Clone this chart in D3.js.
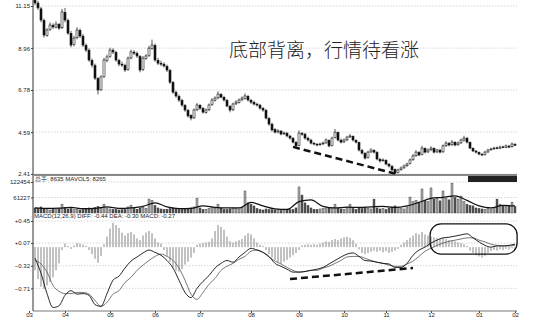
<!DOCTYPE html>
<html>
<head>
<meta charset="utf-8">
<script src="https://cdnjs.cloudflare.com/ajax/libs/d3/7.8.5/d3.min.js"></script>
<style>
body { margin: 0; background: #fff; }
text { font-family: "Liberation Sans", Arial, sans-serif; }
</style>
</head>
<body>
<div id="chart"></div>
<script>
const width = 552;
const height = 322;

// daily candles
const opens = [11.45,11.30,11.00,10.40,9.62,9.92,10.15,10.05,10.20,10.02,
  10.82,10.40,9.72,9.15,9.50,9.88,9.58,9.10,8.85,8.32,
  8.05,7.38,6.80,7.48,8.32,8.52,8.85,8.74,8.32,8.12,
  8.06,7.85,8.45,8.75,8.68,8.52,7.85,8.42,8.57,8.95,
  9.10,8.32,8.17,8.12,8.01,7.80,7.17,6.65,6.45,6.24,
  5.98,5.72,5.45,5.33,5.75,5.98,5.82,5.62,5.75,6.02,
  6.25,6.37,6.55,6.40,6.24,5.93,5.75,6.06,6.14,6.27,
  6.35,6.45,6.24,6.14,6.04,5.99,5.82,5.72,5.30,5.00,
  4.72,4.60,4.64,4.50,4.53,4.38,4.27,4.05,3.89,4.52,
  4.48,4.27,4.17,4.01,3.96,3.93,3.98,4.03,4.16,3.89,
  4.30,4.57,4.17,4.08,4.19,4.34,4.37,4.16,4.05,3.64,
  3.48,3.26,3.56,3.64,3.53,3.17,3.10,3.12,2.92,2.81,
  2.64,2.48,2.63,2.73,2.84,2.95,3.15,3.36,3.53,3.42,
  3.74,3.56,3.67,3.74,3.56,3.65,3.56,3.88,4.00,3.93,
  4.06,3.93,4.03,4.17,4.27,4.05,3.74,3.60,3.53,3.44,
  3.42,3.56,3.67,3.72,3.77,3.75,3.82,3.80,3.86,3.83,
  3.95];
const highs = [11.60,11.42,11.10,10.50,10.00,10.30,10.25,10.35,10.26,11.00,
  11.05,10.50,9.85,9.60,10.05,9.98,9.70,9.20,8.95,8.42,
  8.15,7.45,7.55,8.45,8.62,8.98,8.95,8.82,8.40,8.25,
  8.15,8.52,8.88,8.85,8.78,8.60,8.55,8.65,9.08,9.40,
  9.20,8.45,8.30,8.22,8.10,7.88,7.25,6.75,6.55,6.32,
  6.05,5.80,5.52,5.82,6.10,6.06,5.90,5.82,6.08,6.35,
  6.45,6.72,6.62,6.48,6.32,6.00,6.12,6.25,6.34,6.45,
  6.60,6.52,6.32,6.22,6.12,6.06,5.90,5.80,5.38,5.08,
  4.80,4.74,4.70,4.62,4.60,4.45,4.33,4.12,4.68,4.60,
  4.55,4.35,4.24,4.08,4.02,4.04,4.10,4.26,4.22,4.35,
  4.75,4.62,4.25,4.26,4.40,4.50,4.42,4.22,4.10,3.72,
  3.55,3.62,3.75,3.70,3.60,3.25,3.22,3.18,2.98,2.88,
  2.70,2.68,2.80,2.90,3.00,3.22,3.45,3.65,3.60,3.88,
  3.80,3.74,3.85,3.80,3.72,3.72,3.95,4.12,4.08,4.18,
  4.12,4.10,4.25,4.40,4.34,4.10,3.80,3.66,3.58,3.50,
  3.62,3.72,3.78,3.82,3.84,3.88,3.88,3.94,3.92,4.05,
  4.02];
const lows = [11.20,10.95,10.30,9.50,9.55,9.85,9.95,9.98,9.90,9.95,
  10.30,9.65,9.00,9.05,9.42,9.48,9.02,8.75,8.25,7.95,
  7.30,6.55,6.72,7.40,8.22,8.45,8.65,8.25,8.02,7.98,
  7.72,7.78,8.38,8.60,8.45,7.70,7.76,8.35,8.50,8.88,
  8.25,8.08,8.02,7.95,7.72,7.10,6.58,6.38,6.15,5.90,
  5.65,5.35,5.20,5.28,5.68,5.75,5.55,5.55,5.68,5.95,
  6.18,6.30,6.35,6.18,5.88,5.62,5.68,6.00,6.08,6.20,
  6.28,6.18,6.06,5.98,5.92,5.76,5.65,5.25,4.92,4.62,
  4.52,4.52,4.42,4.44,4.32,4.20,4.00,3.80,3.85,4.40,
  4.20,4.10,3.95,3.90,3.85,3.88,3.92,3.98,3.80,3.84,
  4.25,4.10,4.00,4.02,4.12,4.28,4.10,4.00,3.58,3.42,
  3.16,3.20,3.50,3.48,3.12,3.00,3.05,2.86,2.75,2.55,
  2.41,2.44,2.58,2.68,2.78,2.90,3.10,3.30,3.34,3.38,
  3.48,3.50,3.60,3.48,3.50,3.48,3.52,3.82,3.85,3.88,
  3.85,3.88,3.98,4.10,4.00,3.70,3.55,3.48,3.38,3.34,
  3.36,3.50,3.62,3.66,3.70,3.70,3.76,3.75,3.76,3.78,
  3.86];
const closes = [11.31,11.05,10.42,9.64,9.90,10.16,10.06,10.21,10.00,10.84,
  10.42,9.74,9.12,9.48,9.90,9.59,9.12,8.86,8.34,8.08,
  7.40,6.78,7.46,8.34,8.50,8.86,8.76,8.34,8.13,8.08,
  7.82,8.44,8.76,8.70,8.55,7.82,8.44,8.55,8.96,9.12,
  8.34,8.18,8.13,8.03,7.82,7.19,6.67,6.47,6.26,6.00,
  5.74,5.43,5.32,5.74,6.00,5.84,5.63,5.74,6.00,6.26,
  6.36,6.57,6.41,6.26,5.95,5.74,6.05,6.15,6.26,6.36,
  6.47,6.26,6.15,6.05,6.00,5.84,5.74,5.32,5.01,4.70,
  4.59,4.65,4.49,4.54,4.39,4.28,4.07,3.87,4.54,4.49,
  4.28,4.18,4.02,3.97,3.92,3.97,4.02,4.18,3.87,4.28,
  4.59,4.18,4.07,4.18,4.33,4.39,4.18,4.07,3.66,3.50,
  3.24,3.55,3.66,3.55,3.19,3.09,3.14,2.93,2.83,2.62,
  2.46,2.62,2.72,2.83,2.93,3.14,3.35,3.55,3.40,3.76,
  3.55,3.66,3.76,3.55,3.66,3.55,3.87,4.02,3.92,4.07,
  3.92,4.02,4.18,4.28,4.07,3.76,3.61,3.55,3.45,3.40,
  3.55,3.66,3.71,3.76,3.76,3.81,3.81,3.87,3.81,3.97,
  3.92];

const volumes = [20000,18000,24000,16000,14000,12000,15000,13000,17000,35000,
  22000,16000,18000,13000,15000,12000,14000,16000,20000,18000,
  22000,26000,18000,35000,20000,16000,14000,15000,12000,13000,
  14000,24000,31000,18000,15000,20000,22000,18000,55000,50000,
  30000,20000,16000,14000,15000,18000,20000,16000,14000,15000,
  16000,18000,20000,24000,59000,20000,14000,15000,18000,22000,
  18000,35000,20000,15000,14000,16000,20000,18000,16000,22000,
  87000,40000,35000,28000,18000,14000,12000,16000,14000,13000,
  12000,14000,10000,12000,11000,13000,14000,20000,103000,71000,
  40000,30000,20000,15000,14000,16000,18000,20000,22000,18000,
  35000,20000,16000,15000,22000,35000,18000,14000,20000,18000,
  22000,18000,16000,55000,20000,16000,18000,14000,20000,24000,
  28000,22000,18000,16000,24000,63000,45000,50000,40000,95000,
  50000,45000,99000,55000,60000,48000,87000,58000,52000,118000,
  62000,55000,67000,45000,35000,30000,28000,20000,18000,16000,
  15000,18000,16000,22000,55000,35000,30000,25000,28000,43000,
  26000];
// MAVOL5, one reading every 4 days
const mavol = [20000,18000,19000,22000,17000,18000,24000,18000,20000,26000,
  40000,24000,17000,18000,28000,22000,20000,20000,42000,28000,
  16000,14000,45000,52000,26000,20000,23000,22000,24000,26000,
  22000,28000,42000,58000,62000,68000,50000,28000,20000,30000,
  28000];

// MACD histogram, one bar a day
const macdBars = [-0.40,-0.55,-0.68,-0.72,-0.66,-0.60,-0.52,-0.40,-0.28,-0.05,
  0.06,0.02,-0.03,0.03,0.07,0.06,0.04,0.02,-0.05,-0.12,
  -0.20,-0.27,-0.15,0.05,0.18,0.32,0.42,0.38,0.33,0.25,
  0.20,0.24,0.26,0.22,0.15,0.12,0.20,0.25,0.28,0.24,
  0.15,0.08,0.06,-0.05,-0.15,-0.25,-0.35,-0.40,-0.42,-0.38,
  -0.30,-0.25,-0.18,-0.10,0.04,0.06,0.07,0.08,0.09,0.15,
  0.28,0.38,0.35,0.30,0.18,0.10,0.08,0.10,0.12,0.14,
  0.20,0.24,0.22,0.15,0.08,0.04,0.02,-0.05,-0.12,-0.18,
  -0.22,-0.26,-0.28,-0.25,-0.22,-0.18,-0.14,-0.10,-0.05,0.03,
  0.04,0.05,0.04,0.05,0.04,0.06,0.08,0.10,0.09,0.12,
  0.14,0.12,0.15,0.17,0.18,0.16,0.12,0.06,-0.04,-0.10,
  -0.12,-0.10,-0.08,-0.06,-0.08,-0.06,-0.09,-0.07,-0.10,-0.08,
  -0.06,-0.03,0.04,0.08,0.12,0.16,0.20,0.24,0.22,0.26,
  0.22,0.20,0.18,0.17,0.16,0.15,0.16,0.14,0.12,0.12,
  0.10,0.08,0.07,0.05,0.02,-0.06,-0.10,-0.14,-0.16,-0.18,
  -0.15,-0.10,-0.07,-0.05,-0.06,-0.04,-0.05,-0.03,-0.04,-0.02,
  -0.03];
// DIFF and DEA, one reading every 2 days
const diff = [-0.19,-0.45,-0.80,-1.04,-1.01,-0.83,-0.75,-0.81,-0.80,-0.83,
  -0.99,-1.02,-0.80,-0.57,-0.50,-0.36,-0.24,-0.17,-0.10,-0.05,
  -0.09,-0.14,-0.23,-0.36,-0.57,-0.78,-0.87,-0.71,-0.59,-0.49,
  -0.36,-0.28,-0.23,-0.26,-0.17,-0.09,-0.02,-0.05,-0.09,-0.16,
  -0.28,-0.33,-0.38,-0.43,-0.43,-0.42,-0.40,-0.38,-0.35,-0.29,
  -0.23,-0.17,-0.12,-0.10,-0.16,-0.23,-0.24,-0.26,-0.28,-0.29,
  -0.35,-0.35,-0.28,-0.14,-0.05,0.00,0.07,0.12,0.16,0.17,
  0.19,0.21,0.23,0.16,0.09,0.03,0.00,0.02,0.02,0.03,
  0.05];
const dea = [-0.23,-0.29,-0.43,-0.66,-0.76,-0.80,-0.80,-0.78,-0.78,-0.81,
  -0.92,-1.02,-0.95,-0.81,-0.75,-0.61,-0.52,-0.40,-0.31,-0.23,
  -0.16,-0.12,-0.16,-0.23,-0.36,-0.57,-0.81,-0.90,-0.78,-0.64,
  -0.54,-0.40,-0.33,-0.28,-0.21,-0.16,-0.07,-0.05,-0.09,-0.17,
  -0.24,-0.29,-0.35,-0.40,-0.43,-0.42,-0.40,-0.40,-0.36,-0.33,
  -0.28,-0.23,-0.17,-0.16,-0.16,-0.19,-0.23,-0.26,-0.28,-0.31,
  -0.33,-0.33,-0.29,-0.24,-0.16,-0.07,-0.02,0.03,0.07,0.10,
  0.12,0.14,0.16,0.16,0.12,0.09,0.05,0.03,0.02,0.02,
  0.03];

const priceTicks = [11.15, 8.96, 6.78, 4.59, 2.41];
const volTicks = [122454, 61227];
const macdTicks = [0.45, 0.07, -0.32, -0.71];
const monthTicks = [-2, 10, 25, 40, 55, 72, 88, 103, 117, 132, 148, 160];
const monthLabels = ["03","04","05","06","07","08","09","10","11","12","01","02"];

// hand-drawn marks on the picture: [day, value]
const priceTrend = [[86, 3.82], [120, 2.43]];
const macdTrend = [[85, -0.55], [126, -0.36]];
const macdBox = [[131.7, 0.40], [160.7, -0.12]];

const title = "底部背离，行情待看涨";
const volHeader = "总手: 8635  MAVOL5: 8265";
const macdHeader = "MACD(12,26,9) DIFF: -0.44 DEA: -0.30 MACD: -0.27";

const svg = d3
  .select("#chart")
  .append("svg")
  .attr("width", width)
  .attr("height", height);

const x = d3.scaleLinear().domain([-2, 160]).range([29, 515]);
const yPrice = d3.scaleLinear().domain([2.41, 11.15]).range([174, 6]);
const yVol = d3.scaleLinear().domain([0, 122454]).range([213, 182]);
const yMacd = d3.scaleLinear().domain([-1.10, 0.45]).range([311, 221]);

const x0 = 33, x1 = 517;

// grid lines
const grid = svg.append("g").attr("stroke", "#bbb").attr("stroke-width", 0.6).attr("stroke-dasharray", "1.5,1.5");
grid.selectAll(".gp").data(priceTicks).enter().append("line")
  .attr("x1", x0).attr("x2", x1).attr("y1", d => yPrice(d)).attr("y2", d => yPrice(d));
grid.selectAll(".gv").data(volTicks).enter().append("line")
  .attr("x1", x0).attr("x2", x1).attr("y1", d => yVol(d)).attr("y2", d => yVol(d));
grid.selectAll(".gm").data(macdTicks).enter().append("line")
  .attr("x1", x0).attr("x2", x1).attr("y1", d => yMacd(d)).attr("y2", d => yMacd(d));

// axes
const axisStyle = g => {
  g.selectAll("text").style("font-size", "6px").attr("fill", "#222");
  g.selectAll("line").attr("stroke", "#444");
  g.select(".domain").remove();
};
svg.append("g").attr("transform", "translate(" + x0 + ",0)")
  .call(d3.axisLeft(yPrice).tickValues(priceTicks).tickFormat(d3.format(".2f")).tickSize(2).tickPadding(1))
  .call(axisStyle);
svg.append("g").attr("transform", "translate(" + x0 + ",0)")
  .call(d3.axisLeft(yVol).tickValues(volTicks).tickFormat(d => d).tickSize(2).tickPadding(1))
  .call(axisStyle);
svg.append("g").attr("transform", "translate(" + x0 + ",0)")
  .call(d3.axisLeft(yMacd).tickValues(macdTicks).tickFormat(d3.format("+.2f")).tickSize(2).tickPadding(1))
  .call(axisStyle);
svg.append("g").attr("transform", "translate(0,311)")
  .call(d3.axisBottom(x).tickValues(monthTicks).tickFormat((d, i) => monthLabels[i]).tickSize(2).tickPadding(0))
  .call(axisStyle);

svg.append("line").attr("x1", x0).attr("x2", x0).attr("y1", 0).attr("y2", 311)
  .attr("stroke", "#333").attr("stroke-width", 1);
svg.append("line").attr("x1", x0).attr("x2", x1).attr("y1", 311).attr("y2", 311)
  .attr("stroke", "#555").attr("stroke-width", 0.8);
svg.append("line").attr("x1", x0).attr("x2", x1).attr("y1", 175).attr("y2", 175)
  .attr("stroke", "#888").attr("stroke-width", 2);

// candles
const candles = closes.map((c, i) => ({ i: i, o: opens[i], h: highs[i], l: lows[i], c: c }));
svg.append("g").selectAll("line").data(candles).enter().append("line")
  .attr("x1", d => x(d.i)).attr("x2", d => x(d.i))
  .attr("y1", d => yPrice(d.h)).attr("y2", d => yPrice(d.l))
  .attr("stroke", "#111").attr("stroke-width", 0.7);
svg.append("g").selectAll("rect").data(candles).enter().append("rect")
  .attr("x", d => x(d.i) - 1)
  .attr("width", 2)
  .attr("y", d => yPrice(Math.max(d.o, d.c)))
  .attr("height", d => Math.max(0.8, Math.abs(yPrice(d.o) - yPrice(d.c))))
  .attr("fill", d => d.c < d.o ? "#111" : "#fff")
  .attr("stroke", "#111").attr("stroke-width", 0.6);

// volume
svg.append("g").selectAll("rect").data(volumes).enter().append("rect")
  .attr("x", (d, i) => x(i) - 1)
  .attr("width", 2)
  .attr("y", d => yVol(d))
  .attr("height", d => 213 - yVol(d))
  .attr("fill", (d, i) => closes[i] < opens[i] ? "#555" : "#aaa")
  .attr("stroke", "#333").attr("stroke-width", 0.4);
svg.append("path").datum(mavol)
  .attr("fill", "none").attr("stroke", "#111").attr("stroke-width", 1.2)
  .attr("d", d3.line().x((d, i) => x(i * 4)).y(d => yVol(d)).curve(d3.curveMonotoneX));

// MACD
svg.append("g").selectAll("line").data(macdBars).enter().append("line")
  .attr("x1", (d, i) => x(i)).attr("x2", (d, i) => x(i))
  .attr("y1", yMacd(0)).attr("y2", d => yMacd(d))
  .attr("stroke", "#777").attr("stroke-width", 0.9);
svg.append("path").datum(dea)
  .attr("fill", "none").attr("stroke", "#555").attr("stroke-width", 0.8)
  .attr("d", d3.line().x((d, i) => x(i * 2)).y(d => yMacd(d)).curve(d3.curveMonotoneX));
svg.append("path").datum(diff)
  .attr("fill", "none").attr("stroke", "#111").attr("stroke-width", 0.9)
  .attr("d", d3.line().x((d, i) => x(i * 2)).y(d => yMacd(d)).curve(d3.curveMonotoneX));

// annotations
svg.append("line")
  .attr("x1", x(priceTrend[0][0])).attr("y1", yPrice(priceTrend[0][1]))
  .attr("x2", x(priceTrend[1][0])).attr("y2", yPrice(priceTrend[1][1]))
  .attr("stroke", "#111").attr("stroke-width", 2.5).attr("stroke-dasharray", "7,4");
svg.append("line")
  .attr("x1", x(macdTrend[0][0])).attr("y1", yMacd(macdTrend[0][1]))
  .attr("x2", x(macdTrend[1][0])).attr("y2", yMacd(macdTrend[1][1]))
  .attr("stroke", "#111").attr("stroke-width", 2.5).attr("stroke-dasharray", "7,4");
svg.append("rect")
  .attr("x", x(macdBox[0][0])).attr("y", yMacd(macdBox[0][1]))
  .attr("width", x(macdBox[1][0]) - x(macdBox[0][0]))
  .attr("height", yMacd(macdBox[1][1]) - yMacd(macdBox[0][1]))
  .attr("rx", 11).attr("fill", "none").attr("stroke", "#111").attr("stroke-width", 1.3);

// headers
svg.append("text").attr("x", 35).attr("y", 181).text(volHeader)
  .style("font-size", "6px").attr("fill", "#222");
svg.append("rect").attr("x", 468).attr("y", 176).attr("width", 49).attr("height", 6).attr("fill", "#222");
svg.append("text").attr("x", 34).attr("y", 218).text(macdHeader)
  .style("font-size", "6px").attr("fill", "#222");

svg.append("text").attr("x", 229).attr("y", 57).text(title)
  .style("font-family", "'Noto Sans CJK SC', sans-serif")
  .style("font-weight", 300)
  .style("font-size", "19px").attr("fill", "#222");
</script>
</body>
</html>
